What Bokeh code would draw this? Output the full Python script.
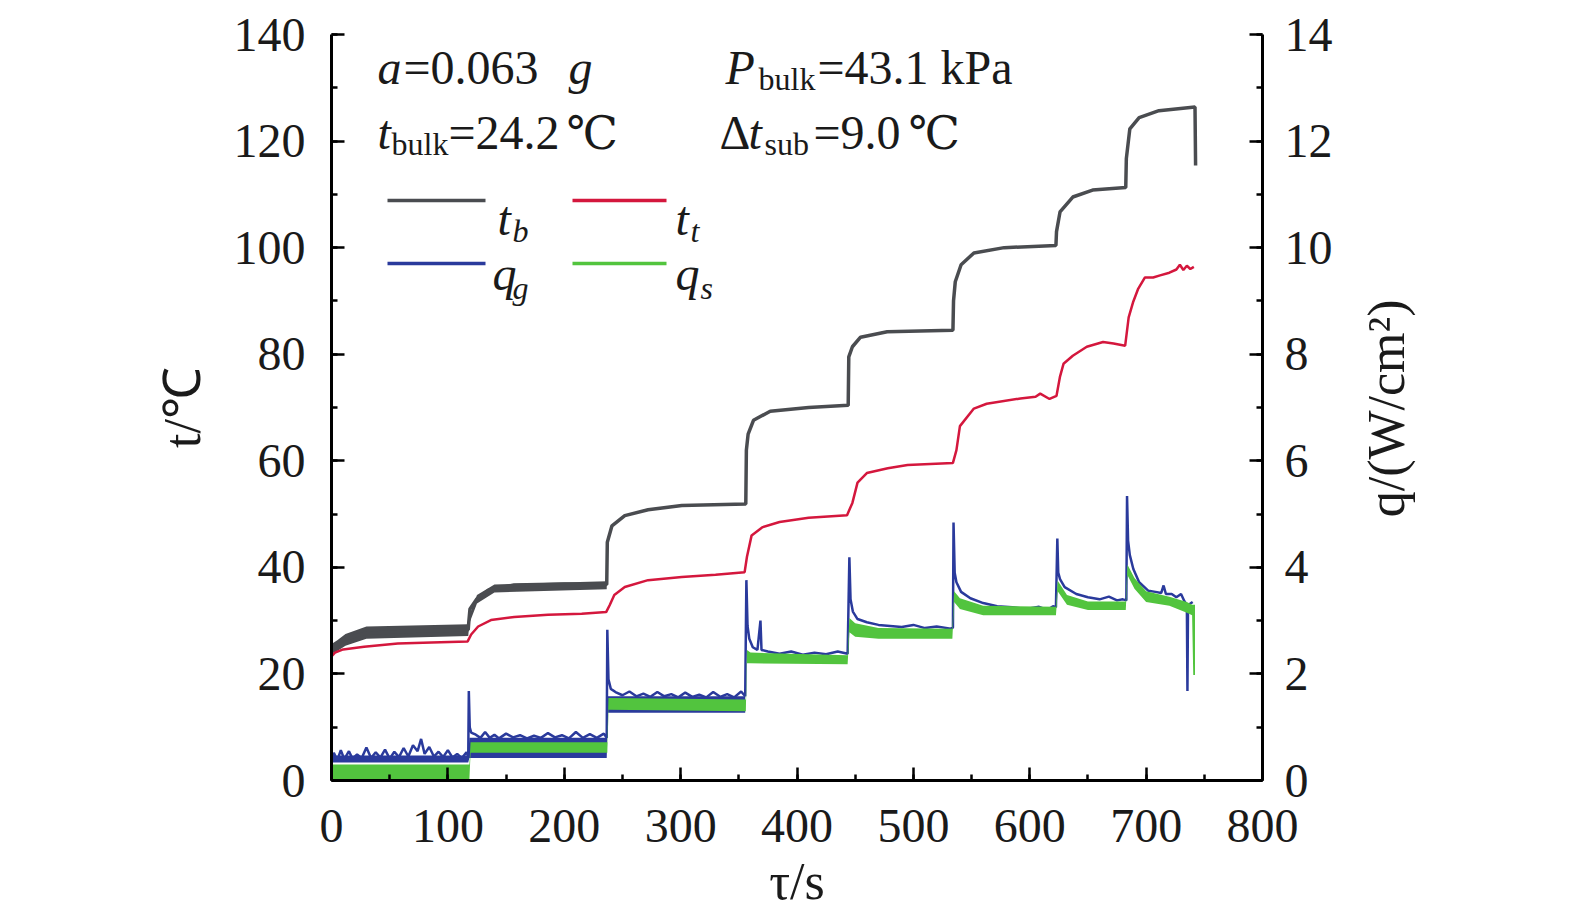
import numpy as np
from bokeh.plotting import figure
from bokeh.models import Range1d, SingleIntervalTicker, FixedTicker, LinearAxis, Label
from bokeh.embed import file_html
from bokeh.resources import INLINE

# ---- data (tau in s, t in degC, q in W/cm2) ----
tau_tb = [0, 3, 10, 28, 57, 86, 117.5, 118, 119, 125, 135, 157, 200, 236.5,
          237, 241, 252, 272, 301, 356, 356.5, 358, 362.6, 377, 410, 444,
          444.5, 447.6, 454.6, 477.5, 534, 534.5, 536, 541, 552, 578, 622.5,
          623, 626, 637, 654, 682.5, 683, 686, 694, 711, 742, 742.5]
t_b = [24.8, 25.1, 26.4, 27.6, 27.9, 28.1, 28.3, 29.8, 32.2, 34.1, 35.7, 36.7, 36.9, 36.8,
       44.7, 47.8, 49.7, 50.8, 51.6, 51.9, 62.0, 65.0, 67.6, 69.3, 70.0, 70.4,
       79.5, 81.4, 83.2, 84.2, 84.5, 90.0, 93.6, 96.8, 99.0, 100.0, 100.4,
       103.0, 106.7, 109.5, 110.8, 111.3, 116.7, 122.3, 124.4, 125.7, 126.4, 115.4]

# noisy envelope of t_b during the first two heating steps
tau_tb_band = [0, 5, 12, 30, 117.5, 118.5, 125, 140, 236.5]
t_b_lo = [23.8, 24.3, 25.3, 26.6, 27.1, 29.5, 33.2, 35.3, 35.9]
t_b_hi = [25.6, 26.3, 27.5, 28.9, 29.3, 31.0, 34.8, 36.8, 37.4]

tau_tt = [0, 3, 10, 28, 57, 86, 117, 120, 126, 137, 157, 186, 215, 236,
          239, 243, 252, 272, 301, 330, 355, 357, 361, 370, 385, 410, 443,
          447.6, 452, 460, 478, 495, 534, 537, 540, 552, 563, 592, 605, 609,
          617, 623, 626, 629, 637, 649, 663, 672, 682, 685, 689, 693, 699,
          706, 712, 720, 726, 729, 732, 735, 738, 741]
t_t = [23.3, 24.0, 24.6, 25.1, 25.7, 25.9, 26.1, 27.4, 28.9, 30.1, 30.7, 31.1, 31.3, 31.6,
       32.9, 34.8, 36.3, 37.6, 38.2, 38.6, 39.1, 42.0, 46.0, 47.5, 48.5, 49.3, 49.8,
       52.1, 55.9, 57.7, 58.6, 59.2, 59.6, 62.0, 66.5, 69.8, 70.7, 71.7, 72.0, 72.6,
       71.6, 72.2, 75.8, 78.2, 79.7, 81.4, 82.3, 82.0, 81.6, 86.9, 89.9, 92.2, 94.4,
       94.4, 94.8, 95.3, 95.9, 96.8, 95.8, 96.6, 96.0, 96.4]

tau_qg = [0, 2, 5, 8, 11, 15, 18, 22, 26, 30, 34, 38, 42, 46, 50, 54, 58, 62, 66, 70,
          74, 77, 80, 84, 88, 92, 96, 100, 104, 108, 112, 116, 117.5,
          118, 118.8, 120, 124, 128, 132, 136, 140, 144, 150, 156, 162, 168, 174, 180,
          186, 192, 198, 204, 210, 216, 222, 228, 234, 236.5,
          237, 238, 240, 244, 250, 256, 262, 268, 274, 280, 286, 292, 298, 304, 310,
          316, 322, 328, 334, 340, 346, 352, 355.5,
          356.5, 357.5, 359, 362, 366, 368.6, 369.5, 375, 385, 395, 405, 415, 425, 435, 443.5,
          445, 446, 448, 452, 460, 470, 480, 490, 500, 510, 520, 532, 534,
          534.5, 535.5, 537, 541, 549, 560, 572, 585, 597, 608, 615, 620, 622.5,
          623.7, 624.5, 626, 630, 640, 650, 660, 668, 675, 680, 683,
          683.6, 684.5, 686, 689, 694, 702, 708, 713, 715, 717, 722, 726, 730, 733,
          735, 735.5, 736, 738, 740]
q_g = [0.35, 0.52, 0.38, 0.57, 0.40, 0.55, 0.41, 0.49, 0.42, 0.62, 0.42, 0.53, 0.43, 0.58,
       0.41, 0.54, 0.44, 0.61, 0.45, 0.66, 0.55, 0.78, 0.50, 0.63, 0.45, 0.54, 0.44, 0.57,
       0.43, 0.50, 0.42, 0.53, 0.45,
       1.68, 1.00, 0.90, 0.86, 0.80, 0.91, 0.80, 0.86, 0.79, 0.88, 0.81, 0.85, 0.79, 0.84,
       0.80, 0.89, 0.81, 0.85, 0.79, 0.91, 0.80, 0.87, 0.80, 0.88, 0.80,
       2.83, 1.90, 1.72, 1.66, 1.60, 1.67, 1.58, 1.63, 1.57, 1.66, 1.58, 1.62, 1.56, 1.65,
       1.57, 1.61, 1.56, 1.66, 1.57, 1.62, 1.56, 1.67, 1.58,
       3.76, 2.90, 2.66, 2.50, 2.45, 3.00, 2.45, 2.42, 2.38, 2.42, 2.36, 2.40, 2.37, 2.42, 2.38,
       4.19, 3.40, 3.17, 3.03, 2.97, 2.92, 2.90, 2.88, 2.92, 2.86, 2.89, 2.85, 2.87,
       4.84, 3.90, 3.72, 3.54, 3.42, 3.33, 3.27, 3.25, 3.22, 3.26, 3.20, 3.27, 3.25,
       4.54, 3.90, 3.78, 3.63, 3.50, 3.44, 3.40, 3.45, 3.38, 3.40, 3.38,
       5.34, 4.50, 4.23, 3.97, 3.72, 3.56, 3.54, 3.52, 3.66, 3.50, 3.50, 3.44, 3.50, 3.36,
       3.30, 1.68, 3.30, 3.32, 3.35]

# noisy envelope of q_g on the first three steps
tau_qg_band = [0, 117.5, 118.5, 236.5, 237.5, 355.5]
q_g_lo = [0.34, 0.34, 0.42, 0.42, 1.27, 1.27]
q_g_hi = [0.47, 0.47, 0.80, 0.80, 1.58, 1.58]

tau_qs = [0, 118.5, 119.5, 237, 238, 356, 357, 360, 443.5, 445, 450, 470, 533.5,
          535, 540, 560, 622.5, 624, 632, 650, 682.5, 684, 690, 700, 720, 735,
          739.5, 740.5, 742]
q_s_lo = [0.03, 0.03, 0.52, 0.52, 1.33, 1.30, 2.20, 2.20, 2.18, 2.78, 2.70, 2.66, 2.66,
          3.35, 3.22, 3.10, 3.10, 3.55, 3.30, 3.20, 3.20, 3.85, 3.60, 3.35, 3.28, 3.15,
          3.10, 1.98, 1.98]
q_s_hi = [0.30, 0.30, 0.72, 0.72, 1.55, 1.52, 2.45, 2.40, 2.35, 3.05, 2.95, 2.86, 2.85,
          3.55, 3.42, 3.28, 3.26, 3.75, 3.48, 3.36, 3.36, 4.05, 3.80, 3.55, 3.45, 3.35,
          3.30, 3.30, 3.30]

GRAY, RED, BLUE, GREEN = "#4a4c50", "#d4173d", "#2a3a9c", "#52c43e"
SERIF = "Liberation Serif"
INK = "#1a1a1a"

# canvas position of the frame's bottom-left corner
X0, Y0 = 331, 780
W, H = 1559, 915

p = figure(width=W, height=H, x_range=Range1d(0, 800), y_range=Range1d(0, 140),
           output_backend="svg", toolbar_location=None,
           min_border_left=X0, min_border_right=W - 1262, min_border_top=34,
           min_border_bottom=H - Y0)
p.extra_y_ranges = {"q": Range1d(0, 14), "py": Range1d(0, Y0 - 34)}
p.extra_x_ranges = {"px": Range1d(0, 1262 - X0)}
p.outline_line_color = None
p.grid.visible = False
p.background_fill_color = "white"
p.border_fill_color = "white"

p.add_layout(LinearAxis(y_range_name="q"), "right")


def style_axis(ax, interval, standoff, title, title_standoff):
    ax.ticker = SingleIntervalTicker(interval=interval, num_minor_ticks=2)
    ax.axis_line_width = 3
    ax.axis_line_color = "black"
    ax.major_tick_in, ax.major_tick_out = 13, 0
    ax.minor_tick_in, ax.minor_tick_out = 6, 0
    ax.major_tick_line_width = 2.5
    ax.minor_tick_line_width = 2.5
    ax.major_label_text_font = SERIF
    ax.major_label_text_font_size = "48px"
    ax.major_label_text_color = INK
    ax.major_label_standoff = standoff
    ax.axis_label = title
    ax.axis_label_text_font = SERIF
    ax.axis_label_text_font_size = "52px"
    ax.axis_label_text_font_style = "normal"
    ax.axis_label_text_color = INK
    ax.axis_label_standoff = title_standoff


style_axis(p.xaxis[0], 100, 29, "τ/s", 8)
style_axis(p.yaxis[0], 20, 26, "t/℃", 20)
style_axis(p.yaxis[1], 2, 22, None, 0)

# the right-hand title reads upwards from q~4.9, so it is carried by a bare axis
# whose single tick label is the title
Q_TITLE_AT = 4.94
q_title = LinearAxis(y_range_name="q", ticker=FixedTicker(ticks=[Q_TITLE_AT]),
                     major_label_overrides={Q_TITLE_AT: "q/(W/cm²)"},
                     axis_line_color=None, major_tick_in=0, major_tick_out=0,
                     minor_tick_in=0, minor_tick_out=0, major_label_standoff=51,
                     major_label_orientation=np.pi / 2,
                     major_label_text_font=SERIF, major_label_text_font_size="52px",
                     major_label_text_color=INK)
p.add_layout(q_title, "right")

# curves
p.varea(x=tau_tb_band, y1=t_b_lo, y2=t_b_hi, color=GRAY)
p.line(tau_tb, t_b, color=GRAY, line_width=3.5)
p.line(tau_tt, t_t, color=RED, line_width=2.5)
p.varea(x=tau_qg_band, y1=q_g_lo, y2=q_g_hi, color=BLUE, y_range_name="q")
p.line(tau_qg, q_g, color=BLUE, line_width=2.5, y_range_name="q")
p.varea(x=tau_qs, y1=q_s_lo, y2=q_s_hi, color=GREEN, y_range_name="q")


def put(text, x, y, size, italic=False, font=SERIF):
    p.add_layout(Label(x=x - X0, y=Y0 - y, x_range_name="px", y_range_name="py",
                       text=text, text_font=font, text_font_size=f"{size}px",
                       text_font_style="italic" if italic else "normal",
                       text_color=INK, text_baseline="alphabetic", text_align="left"))


# condition annotations
put("a", 377, 67, 48, True)
put("=0.063", 403, 67, 48)
put("g", 568, 67, 48, True)
put("P", 725, 67, 48, True)
put("bulk", 758, 78, 32)
put("=43.1 kPa", 817, 67, 48)
put("t", 377, 132, 48, True)
put("bulk", 391, 143, 32)
put("=24.2", 448, 132, 48)
put("℃", 566, 132, 46, font="DejaVu Serif")
put("Δ", 719, 132, 48)
put("t", 748, 132, 48, True)
put("sub", 764, 143, 32)
put("=9.0", 813, 132, 48)
put("℃", 908, 132, 46, font="DejaVu Serif")

# legend
leg_x = [[387 - X0, 485 - X0], [572 - X0, 666 - X0], [387 - X0, 485 - X0], [572 - X0, 666 - X0]]
leg_y = [[Y0 - 200] * 2, [Y0 - 200] * 2, [Y0 - 263] * 2, [Y0 - 263] * 2]
for xs, ys, c in zip(leg_x, leg_y, [GRAY, RED, BLUE, GREEN]):
    p.line(xs, ys, color=c, line_width=3.5, x_range_name="px", y_range_name="py")
put("t", 497, 218, 48, True)
put("b", 512, 230, 32, True)
put("t", 675, 218, 48, True)
put("t", 690, 230, 32, True)
put("q", 492, 273, 48, True)
put("g", 512, 287, 32, True)
put("q", 675, 273, 48, True)
put("s", 700, 287, 32, True)

open("out.html", "w").write(file_html(p, INLINE))
